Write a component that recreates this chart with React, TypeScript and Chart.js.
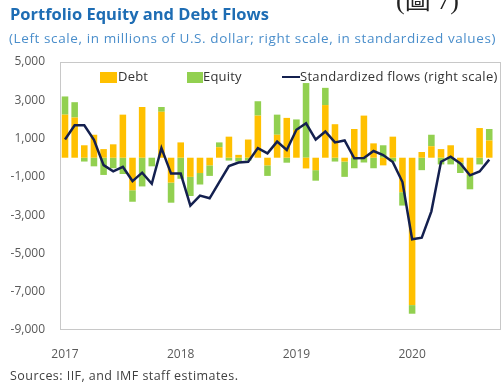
import React, { useEffect, useRef } from 'react';
import { Chart, registerables } from 'chart.js';

Chart.register(...registerables);

const FONT = "'Open Sans', 'Noto Sans', sans-serif";

const months = [
  '2017-01', '2017-02', '2017-03', '2017-04', '2017-05', '2017-06', '2017-07', '2017-08', '2017-09', '2017-10', '2017-11', '2017-12',
  '2018-01', '2018-02', '2018-03', '2018-04', '2018-05', '2018-06', '2018-07', '2018-08', '2018-09', '2018-10', '2018-11', '2018-12',
  '2019-01', '2019-02', '2019-03', '2019-04', '2019-05', '2019-06', '2019-07', '2019-08', '2019-09', '2019-10', '2019-11', '2019-12',
  '2020-01', '2020-02', '2020-03', '2020-04', '2020-05', '2020-06', '2020-07', '2020-08', '2020-09',
];

const yearLabels = ['2017', '2018', '2019', '2020'];
const yearStartMonths = ['2017-01', '2018-01', '2019-01', '2020-01'];

// Left scale, millions of U.S. dollars
const debt = [
  2250, 2100, 650, 1200, 450, 700, 2250, -1700, 2650, 0, 2400, -1300,
  800, -1000, -800, -400, 550, 1100, 150, 950, 2200, -400, 1200, 2080,
  1450, -560, -650, 2750, 1750, -200, 1500, 2200, 750, -400, 1100, -1800,
  -7700, 300, 600, 450, 650, -250, -900, 1550, 900,
];
const equity = [
  950, 800, -200, -450, -900, -550, -850, -600, -1500, -450, 250, -1050,
  -1100, -1000, -600, -550, 250, -150, -200, -150, 750, -550, 1050, -260,
  550, 3900, -550, 900, -200, -800, -550, -250, -550, 650, -200, -700,
  -450, -650, 600, -350, -350, -550, -750, -350, 600,
];
// Right scale, standardized values
const flows = [
  0.95, 1.69, 1.69, 0.93, -0.39, -0.71, -0.48, -1.22, -0.78, -1.36, 0.5, -0.83,
  -0.83, -2.5, -1.98, -2.12, -1.27, -0.44, -0.25, -0.21, 0.5, 0.23, 0.84, 0.4,
  1.46, 1.8, 0.95, 1.37, 0.8, 0.9, -0.03, -0.02, 0.35, 0.14, -0.23, -1.27,
  -4.26, -4.18, -2.8, -0.21, 0.05, -0.3, -0.92, -0.72, -0.1,
];

const leftTicks = { min: -9000, max: 5000, step: 2000 };
const rightRange = { min: -9, max: 5 };

const seriesNames = ['Debt', 'Equity', 'Standardized flows (right scale)'];
const seriesColors = ['#FFC000', '#92D050', '#14204F'];

export default function App() {
  const ref = useRef<HTMLCanvasElement | null>(null);

  useEffect(() => {
    if (!ref.current) return;
    const framePlugin = {
      id: 'frame',
      afterDraw(chart: any) {
        const { ctx, chartArea: a } = chart;
        ctx.save();
        ctx.strokeStyle = '#C8C8C8';
        ctx.lineWidth = 1;
        ctx.strokeRect(a.left + 0.5, a.top + 0.5, a.right - a.left - 1, a.bottom - a.top - 1);
        ctx.restore();
      },
    };
    const tickIdx = yearStartMonths.map((m) => months.indexOf(m));
    const chart = new Chart(ref.current, {
      type: 'bar',
      data: {
        datasets: [
          {
            type: 'bar',
            label: seriesNames[0],
            data: debt.map((v, i) => ({ x: i, y: v })),
            backgroundColor: seriesColors[0],
            yAxisID: 'y',
            order: 2,
            barPercentage: 0.68,
            categoryPercentage: 1,
          },
          {
            type: 'bar',
            label: seriesNames[1],
            data: equity.map((v, i) => ({ x: i, y: v })),
            backgroundColor: seriesColors[1],
            yAxisID: 'y',
            order: 2,
            barPercentage: 0.68,
            categoryPercentage: 1,
          },
          {
            type: 'line',
            label: seriesNames[2],
            data: flows.map((v, i) => ({ x: i, y: v })),
            borderColor: seriesColors[2],
            borderWidth: 2.5,
            pointRadius: 0,
            tension: 0,
            yAxisID: 'y1',
            order: 1,
          } as any,
        ],
      },
      options: {
        animation: false,
        responsive: false,
        maintainAspectRatio: false,
        layout: { padding: { top: 62, right: 1, left: 0, bottom: 0 } },
        plugins: { legend: { display: false }, tooltip: { enabled: false } },
        scales: {
          x: {
            type: 'linear',
            offset: false,
            min: -0.52,
            max: months.length - 1 + 1.22,
            stacked: true,
            grid: { display: false, drawTicks: false, offset: false },
            border: { display: false },
            afterBuildTicks: (s: any) => {
              s.ticks = tickIdx.map((v) => ({ value: v }));
            },
            afterFit: (s: any) => {
              s.height = 55;
            },
            ticks: {
              autoSkip: false,
              maxRotation: 0,
              padding: 17,
              color: '#595959',
              font: { family: FONT, size: 12 },
              callback: (v: any) => yearLabels[tickIdx.indexOf(Number(v))] ?? '',
            },
          },
          y: {
            min: leftTicks.min,
            max: leftTicks.max,
            stacked: true,
            grid: { display: false, drawTicks: false },
            border: { display: false },
            afterFit: (s: any) => {
              s.width = 60;
            },
            ticks: {
              stepSize: leftTicks.step,
              padding: 15,
              color: '#595959',
              font: { family: FONT, size: 12 },
              callback: (v: any) => Number(v).toLocaleString('en-US'),
            },
          },
          y1: {
            display: false,
            position: 'right',
            min: rightRange.min,
            max: rightRange.max,
          },
        },
      } as any,
      plugins: [framePlugin],
    });
    return () => chart.destroy();
  }, []);

  const text: React.CSSProperties = { position: 'absolute', whiteSpace: 'nowrap', fontFamily: FONT };

  return (
    <div style={{ position: 'fixed', left: 0, top: 0, width: 502, height: 385, background: '#fff', overflow: 'hidden' }}>
      <canvas ref={ref} width={502} height={385} style={{ position: 'absolute', left: 0, top: 0, display: 'block' }} />
      <div style={{ ...text, left: 396, top: -21, fontSize: 26, fontFamily: "'Liberation Serif', 'Noto Sans CJK TC', serif", color: '#222' }}>(圖 7)</div>
      <div style={{ ...text, left: 10, top: 2, fontSize: 16.5, fontWeight: 700, color: '#1E6DB4' }}>
        Portfolio Equity and Debt Flows
      </div>
      <div style={{ ...text, left: 9, top: 29, fontSize: 13.5, letterSpacing: 0.6, color: '#4A8ECB' }}>
        (Left scale, in millions of U.S. dollar; right scale, in standardized values)
      </div>
      <div style={{ ...text, left: 100, top: 72, width: 17, height: 11, background: seriesColors[0] }} />
      <div style={{ ...text, left: 118, top: 67, fontSize: 13, letterSpacing: 0.2, color: '#333' }}>{seriesNames[0]}</div>
      <div style={{ ...text, left: 187, top: 72, width: 16, height: 11, background: seriesColors[1] }} />
      <div style={{ ...text, left: 203, top: 67, fontSize: 13, letterSpacing: 0.2, color: '#333' }}>{seriesNames[1]}</div>
      <div style={{ ...text, left: 282, top: 76, width: 18, height: 2, background: seriesColors[2] }} />
      <div style={{ ...text, left: 300, top: 67, fontSize: 13, letterSpacing: 0.3, color: '#333' }}>{seriesNames[2]}</div>
      <div style={{ ...text, left: 10, top: 367, fontSize: 12.5, letterSpacing: 0.45, color: '#404040' }}>Sources: IIF, and IMF staff estimates.</div>
    </div>
  );
}
